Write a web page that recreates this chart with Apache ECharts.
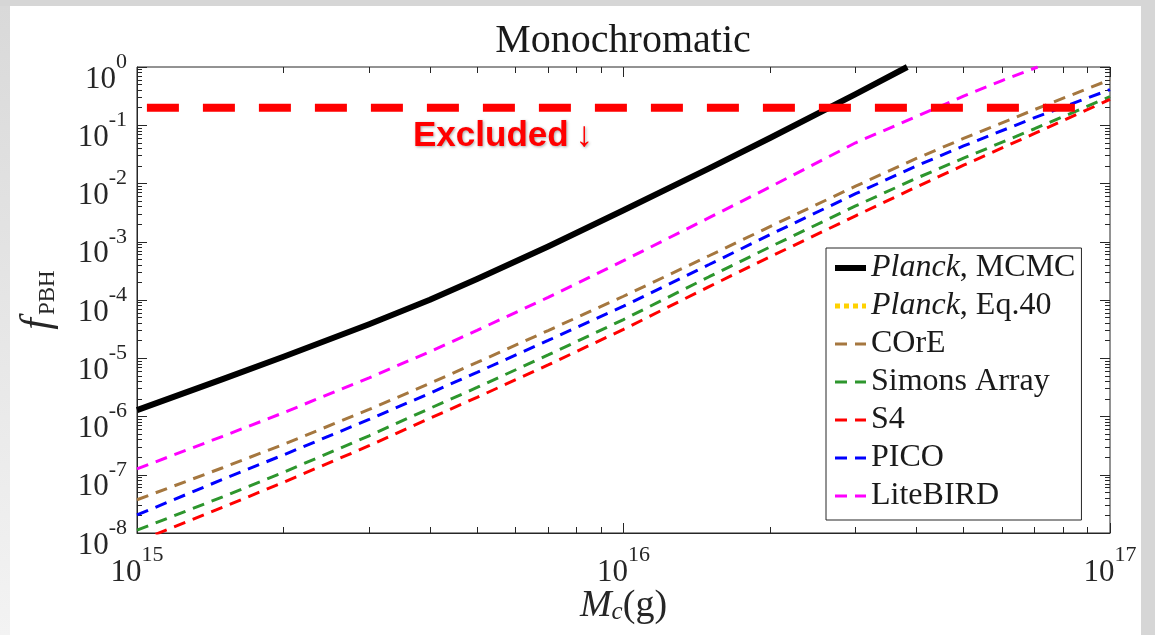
<!DOCTYPE html>
<html><head><meta charset="utf-8">
<script src="https://cdn.jsdelivr.net/npm/echarts@6/dist/echarts.min.js"></script>
<style>
html,body{margin:0;padding:0;width:1155px;height:635px;overflow:hidden;background:#d6d6d6;}
#bgl{position:absolute;left:0;top:6px;width:10px;height:629px;background:linear-gradient(#d9d9d9,#f3f3f3);}
#panel{position:absolute;left:10px;top:6px;width:1131px;height:629px;background:#fff;}
#chart{position:absolute;left:0;top:0;width:1155px;height:635px;}
</style></head><body>
<div id="bgl"></div><div id="panel"></div><div id="chart"></div>
<script>
// ---- data ----
const massGrid = [1e15, 1.5e15, 2e15, 3e15, 4e15, 5e15, 7e15, 1e16, 1.5e16, 2e16, 3e16, 4e16, 5e16, 7e16, 1e17];
const massMCMC = [1e15, 1.5e15, 2e15, 3e15, 4e15, 5e15, 7e15, 1e16, 1.5e16, 2e16, 3e16, 3.83e16];
const fMCMC    = [1.29e-6, 4.39e-6, 1.06e-5, 3.83e-5, 1.01e-4, 2.29e-4, 8.3e-4, 3.47e-3, 0.0182, 0.0603, 0.343, 1.0];
const massEq40 = [];
const fEq40    = [];
const fCOrE    = [3.72e-8, 1.32e-7, 3.32e-7, 1.32e-6, 3.71e-6, 8.47e-6, 2.99e-5, 1.16e-4, 5.75e-4, 1.82e-3, 9.0e-3, 0.0269, 0.0594, 0.186, 0.605];
const fSimons  = [1.12e-8, 4.18e-8, 1.10e-7, 4.67e-7, 1.38e-6, 3.15e-6, 1.14e-5, 4.62e-5, 2.51e-4, 8.13e-4, 4.12e-3, 0.0123, 0.0272, 0.0871, 0.310];
const fS4      = [7.08e-9, 2.76e-8, 7.43e-8, 3.15e-7, 9.31e-7, 2.13e-6, 7.69e-6, 3.13e-5, 1.70e-4, 5.50e-4, 2.79e-3, 8.71e-3, 0.0206, 0.0724, 0.277];
const fPICO    = [2.04e-8, 8.34e-8, 2.19e-7, 8.89e-7, 2.51e-6, 5.73e-6, 2.02e-5, 7.85e-5, 4.07e-4, 1.32e-3, 6.68e-3, 0.020, 0.0441, 0.135, 0.409];
const massLiteBIRD = [1e15, 1.5e15, 2e15, 3e15, 4e15, 5e15, 7e15, 1e16, 1.5e16, 2e16, 3e16, 4e16, 5e16, 6e16, 7.1e16];
const fLiteBIRD    = [1.26e-7, 4.57e-7, 1.16e-6, 4.61e-6, 1.30e-5, 3.01e-5, 1.11e-4, 4.73e-4, 2.59e-3, 8.69e-3, 0.050, 0.141, 0.315, 0.585, 1.0];
const excludedMass  = [1.048e15, 8.47e16];
const excludedLevel = [0.2, 0.2];

const legendNames = ['Planck, MCMC', 'Planck, Eq.40', 'COrE', 'Simons Array', 'S4', 'PICO', 'LiteBIRD'];
const xMajorExp = [15, 16, 17];
const yMajorExp = [-8, -7, -6, -5, -4, -3, -2, -1, 0];
const minorMantissa = [2, 3, 4, 5, 6, 7, 8, 9];

// ---- helpers ----
const pairs = (xs, ys) => xs.map((x, i) => [x, ys[i]]);
const minorExp = (decades) => {
  const out = [];
  decades.forEach(e => minorMantissa.forEach(m => out.push(e + Math.log10(m))));
  return out;
};
const xMinorExp = minorExp([15, 16]);
const yMinorExp = minorExp([-8, -7, -6, -5, -4, -3, -2, -1]);

const AX = '#262626';
const SERIF = '"Liberation Serif", "DejaVu Serif", serif';
const powLabel = v => {
  const e = Math.round(Math.log10(v));
  return '{b|10}{s|' + (e < 0 ? '-' + (-e) : e) + '}';
};
const labelRich = {
  b: {fontFamily: SERIF, fontSize: 31, color: AX, lineHeight: 44, verticalAlign: 'bottom'},
  s: {fontFamily: SERIF, fontSize: 22, color: AX, lineHeight: 22, verticalAlign: 'top'}
};
const hiddenAxisBase = {
  axisLine: {show: false, onZero: false},
  axisLabel: {show: false},
  splitLine: {show: false}
};
const tickAxis = (pos, min, max, values, len) => Object.assign({
  type: 'value', position: pos, min: min, max: max,
  axisTick: {show: true, inside: true, length: len, customValues: values, lineStyle: {color: AX, width: 1}}
}, hiddenAxisBase);

const dashedLine = (name, xs, ys, color) => ({
  name: name, type: 'line', data: pairs(xs, ys), symbol: 'none', smooth: false,
  lineStyle: {color: color, width: 3, type: [12, 8]}, itemStyle: {color: color}
});

const chart = echarts.init(document.getElementById('chart'), null, {renderer: 'canvas'});
chart.setOption({
  animation: false,
  backgroundColor: 'transparent',
  grid: {left: 137, top: 67, right: 45, bottom: 102, containLabel: false, outerBoundsMode: 'none',
    show: true, borderColor: AX, borderWidth: 1, backgroundColor: 'transparent'},
  xAxis: [
    {
      type: 'log', logBase: 10, min: 1e15, max: 1e17, position: 'bottom',
      axisLine: {show: true, onZero: false, lineStyle: {color: AX, width: 1}},
      axisTick: {show: true, inside: true, length: 10, lineStyle: {color: AX}},
      splitLine: {show: false},
      axisLabel: {formatter: powLabel, rich: labelRich, margin: 11},
      name: '{i|M}{sub|c}{n|(g)}', nameLocation: 'middle', nameGap: 54, nameMoveOverlap: false,
      nameTextStyle: {
        fontFamily: SERIF, color: AX,
        rich: {
          i: {fontFamily: SERIF, fontStyle: 'italic', fontSize: 38, lineHeight: 38, verticalAlign: 'top', padding: [0, 0, 6, 0], color: AX},
          sub: {fontFamily: SERIF, fontStyle: 'italic', fontSize: 25, lineHeight: 25, verticalAlign: 'bottom', color: AX},
          n: {fontFamily: SERIF, fontSize: 38, lineHeight: 38, verticalAlign: 'top', padding: [0, 0, 6, 0], color: AX}
        }
      }
    },
    tickAxis('bottom', 15, 17, xMinorExp, 6),
    tickAxis('top', 15, 17, xMajorExp, 10),
    tickAxis('top', 15, 17, xMinorExp, 6)
  ],
  yAxis: [
    {
      type: 'log', logBase: 10, min: 1e-8, max: 1, position: 'left',
      axisLine: {show: true, onZero: false, lineStyle: {color: AX, width: 1}},
      axisTick: {show: true, inside: true, length: 10, lineStyle: {color: AX}},
      splitLine: {show: false},
      axisLabel: {formatter: powLabel, rich: labelRich, margin: 10, padding: [12, 0, 0, 0]},
      name: '{i|f}{sub|PBH}', nameLocation: 'middle', nameGap: 78,
      nameTextStyle: {
        fontFamily: SERIF, color: AX,
        rich: {
          i: {fontFamily: SERIF, fontStyle: 'italic', fontSize: 42, lineHeight: 42, verticalAlign: 'top', padding: [0, 3, 6, 0], color: AX},
          sub: {fontFamily: SERIF, fontSize: 23, lineHeight: 23, verticalAlign: 'bottom', color: AX}
        }
      }
    },
    tickAxis('left', -8, 0, yMinorExp, 5),
    tickAxis('right', -8, 0, yMajorExp, 10),
    tickAxis('right', -8, 0, yMinorExp, 5)
  ],
  legend: {
    data: legendNames, orient: 'vertical', left: 826, top: 248,
    itemWidth: 31, itemHeight: 14, itemGap: 6, padding: [4, 6, 8, 6],
    borderColor: AX, borderWidth: 1, backgroundColor: '#fff',
    itemStyle: {opacity: 0},
    lineStyle: {width: 'inherit'},
    formatter: n => n.indexOf('Planck, ') === 0 ? '{i|Planck}, ' + n.slice(8) : n,
    textStyle: {fontFamily: SERIF, fontSize: 32, lineHeight: 31, color: '#1a1a1a',
      rich: {i: {fontFamily: SERIF, fontStyle: 'italic', fontSize: 32, lineHeight: 31, color: '#1a1a1a'}}}
  },
  graphic: [
    {type: 'text', x: 623, y: 21, silent: true,
      style: {text: 'Monochromatic', fontFamily: SERIF, fontSize: 40, fill: '#1a1a1a', align: 'center', verticalAlign: 'top'}},
    {type: 'text', x: 413, y: 136, silent: true, z: 20,
      style: {text: 'Excluded\u2009\u2193', fontFamily: '"Liberation Sans Narrow", "Liberation Sans", sans-serif', fontWeight: 'bold', fontSize: 35,
        fill: '#ff0000', align: 'left', verticalAlign: 'middle',
        textShadowColor: 'rgba(0,0,0,0.35)', textShadowBlur: 3, textShadowOffsetX: 1, textShadowOffsetY: 1}}
  ],
  series: [
    {name: 'Planck, MCMC', type: 'line', data: pairs(massMCMC, fMCMC), symbol: 'none', smooth: false,
      lineStyle: {color: '#000', width: 6, join: 'round'}, itemStyle: {color: '#000'}},
    {name: 'Planck, Eq.40', type: 'line', data: pairs(massEq40, fEq40), symbol: 'none',
      lineStyle: {color: '#FFD200', width: 5, type: [5, 4]}, itemStyle: {color: '#FFD200'}},
    dashedLine('COrE', massGrid, fCOrE, '#A5773F'),
    dashedLine('Simons Array', massGrid, fSimons, '#2D962D'),
    dashedLine('S4', massGrid, fS4, '#FF0000'),
    dashedLine('PICO', massGrid, fPICO, '#0000FF'),
    dashedLine('LiteBIRD', massLiteBIRD, fLiteBIRD, '#FF00FF'),
    {name: 'Excluded', type: 'line', data: pairs(excludedMass, excludedLevel), symbol: 'none', silent: true, z: 3,
      lineStyle: {color: '#FF0000', width: 8, type: [32, 24], cap: 'butt'}}
  ]
});
</script>
</body></html>
